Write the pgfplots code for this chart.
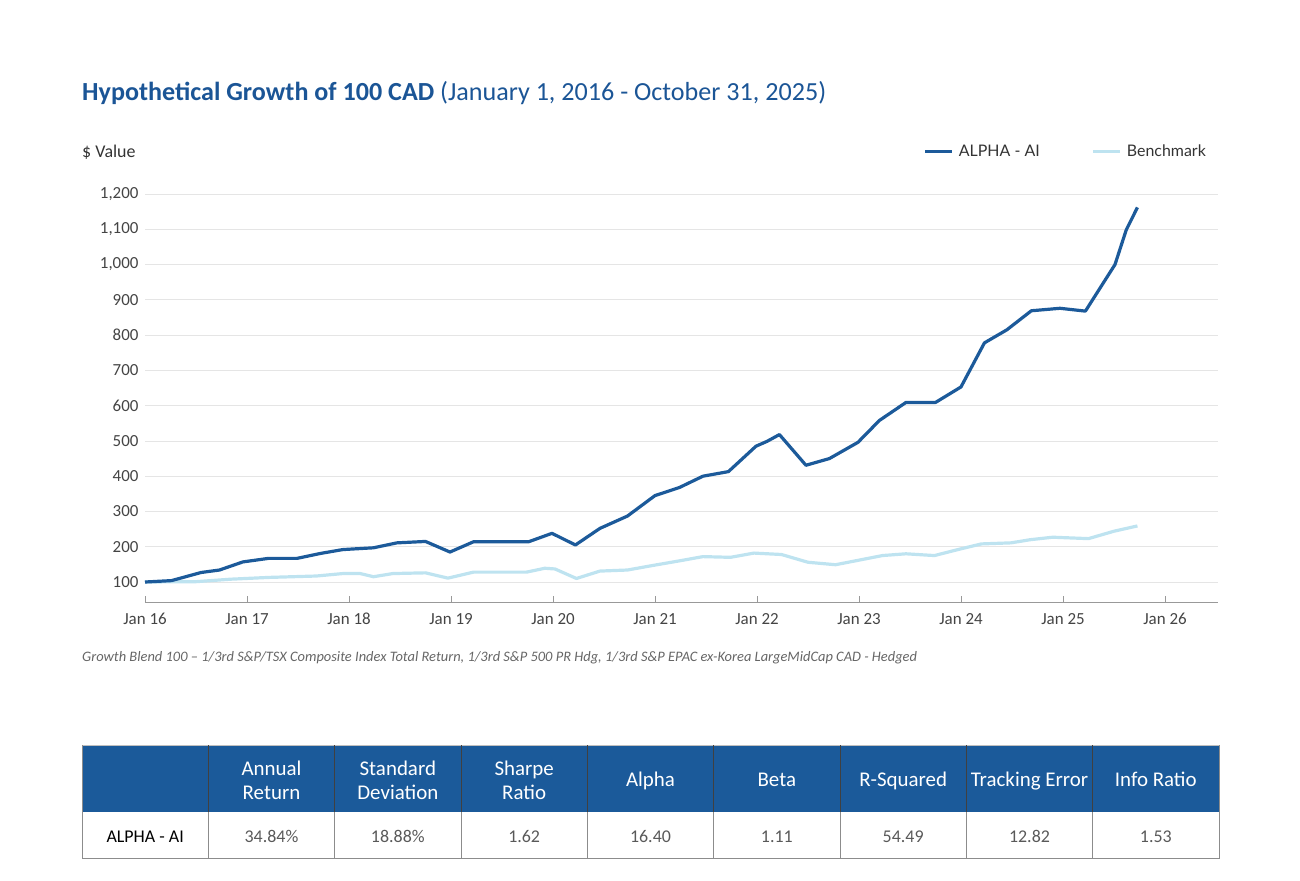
\documentclass[border=0pt]{standalone}
\usepackage{pgfplots}
\pgfplotsset{compat=1.18}
\usepackage{fontspec}
\setmainfont{Carlito}
\newfontfamily\legfont{Lato}
\definecolor{navy}{HTML}{1C5A9A}
\definecolor{lightb}{HTML}{BEE3F0}
\definecolor{titleblue}{HTML}{1B5596}
\definecolor{hdr}{HTML}{1B5A9A}
\definecolor{txt}{HTML}{333333}
\definecolor{tick}{HTML}{444444}

\begin{document}
\begin{tikzpicture}[x=1bp,y=-1bp]
\useasboundingbox (0,0) rectangle (1300,880);

% title and y label
\node[anchor=base west, inner sep=0, text=titleblue, font=\fontsize{26.2}{31}\selectfont]
  at (82,100) {\textbf{Hypothetical Growth of 100 CAD} (January 1, 2016 - October 31, 2025)};
\node[anchor=base west, inner sep=0, text=txt, font=\fontsize{18}{21}\selectfont]
  at (82,157) {\$ Value};

\begin{axis}[
    at={(145bp,-602bp)}, anchor=south west,
    scale only axis, width=1073bp, height=408bp,
    xmin=0, xmax=10.52, ymin=43.3, ymax=1200,
    axis lines=left,
    y axis line style={draw=none},
    x axis line style={draw=gray!80, line width=0.8bp, -},
    xtick={0,1,...,10},
    xticklabels={Jan 16,Jan 17,Jan 18,Jan 19,Jan 20,Jan 21,Jan 22,Jan 23,Jan 24,Jan 25,Jan 26},
    ytick={100,200,...,1200},
    tick align=inside,
    major tick length=6bp,
    xtick style={draw=gray!80, line width=0.8bp},
    ytick style={draw=none},
    ymajorgrids,
    grid style={color=black!10, line width=0.8bp},
    /pgf/number format/assume math mode=true,
    /pgf/number format/1000 sep={,},
    ticklabel style={font=\fontsize{17}{20}\selectfont, text=tick},
    xticklabel style={text height=12bp, text depth=4bp, yshift=-7bp},
    yticklabel style={xshift=-3bp},
    clip=false,
    legend columns=2,
    legend style={at={(0.9935,1.105)}, anchor=east, draw=none, fill=none,
      font=\legfont\fontsize{16}{19}\selectfont, text=txt,
      /tikz/every odd column/.append style={column sep=3bp},
      /tikz/every even column/.append style={column sep=50bp}},
    legend image code/.code={\draw[#1] (0bp,0bp) -- (27bp,0bp);},
  ]
  \addlegendimage{navy, line width=3.2bp}
  \addlegendentry{ALPHA - AI}
  \addplot[lightb, line width=3.2bp, line join=round] coordinates {
    (0,100) (0.5,101) (0.84,108) (1.21,113) (1.68,117) (1.94,124) (2.11,124)
    (2.24,115) (2.43,124) (2.75,126) (2.97,111) (3.22,128) (3.74,128) (3.92,139)
    (4.02,137) (4.23,110) (4.46,131) (4.73,134) (4.98,147) (5.24,160) (5.47,172)
    (5.74,170) (5.97,182) (6.24,178) (6.50,156) (6.77,149) (7.00,162) (7.23,175)
    (7.46,180) (7.74,175) (7.97,192) (8.20,208) (8.49,211) (8.68,220) (8.90,227)
    (9.25,223) (9.50,244) (9.73,259)
  };
  \addlegendentry{Benchmark}
  \addplot[navy, line width=3.2bp, line join=round, forget plot] coordinates {
    (0,100) (0.26,104) (0.55,127) (0.73,134) (0.96,157) (1.21,167) (1.49,167)
    (1.72,181) (1.94,192) (2.24,197) (2.47,211) (2.75,215) (2.99,185) (3.22,214)
    (3.49,214) (3.76,214) (3.99,238) (4.22,205) (4.46,252) (4.73,287) (5.00,345)
    (5.24,368) (5.47,400) (5.72,413) (5.99,485) (6.10,499) (6.22,518) (6.48,431)
    (6.71,450) (6.99,496) (7.20,558) (7.46,609) (7.75,609) (8.00,653) (8.23,778)
    (8.45,815) (8.69,869) (8.97,876) (9.22,868) (9.51,1000) (9.62,1098) (9.73,1162)
  };
\end{axis}

% footnote
\node[anchor=base west, inner sep=0, text=black!60, font=\fontsize{14.5}{17}\selectfont\itshape]
  at (82,661) {Growth Blend 100 -- 1/3rd S\&P/TSX Composite Index Total Return, 1/3rd S\&P 500 PR Hdg, 1/3rd S\&P EPAC ex-Korea LargeMidCap CAD - Hedged};

% statistics table
\fill[hdr] (82,745) rectangle (1219,812);
\draw[black!25, line width=1bp] (82,745) -- (1219,745);
\foreach \i in {1,...,8} {
  \draw[black!75, line width=0.8bp] ({82+\i*126.33},745) -- ({82+\i*126.33},812);
  \draw[black!45, line width=0.8bp] ({82+\i*126.33},812) -- ({82+\i*126.33},858);
}
\draw[black!45, line width=1bp] (82,745) -- (82,858) -- (1219,858) -- (1219,745);
\begin{scope}[every node/.style={text=white, anchor=base, inner sep=0,
    font=\fontsize{21}{24}\selectfont}]
  \node at ({82+1.5*126.33},775) {Annual};
  \node at ({82+1.5*126.33},799) {Return};
  \node at ({82+2.5*126.33},775) {Standard};
  \node at ({82+2.5*126.33},799) {Deviation};
  \node at ({82+3.5*126.33},775) {Sharpe};
  \node at ({82+3.5*126.33},799) {Ratio};
  \node at ({82+4.5*126.33},786) {Alpha};
  \node at ({82+5.5*126.33},786) {Beta};
  \node at ({82+6.5*126.33},786) {R-Squared};
  \node at ({82+7.5*126.33},786) {Tracking Error};
  \node at ({82+8.5*126.33},786) {Info Ratio};
\end{scope}
\begin{scope}[every node/.style={text=black!65, anchor=base, inner sep=0,
    font=\fontsize{18}{21}\selectfont}]
  \node[text=black] at ({82+0.5*126.33},842) {ALPHA - AI};
  \node at ({82+1.5*126.33},842) {34.84\%};
  \node at ({82+2.5*126.33},842) {18.88\%};
  \node at ({82+3.5*126.33},842) {1.62};
  \node at ({82+4.5*126.33},842) {16.40};
  \node at ({82+5.5*126.33},842) {1.11};
  \node at ({82+6.5*126.33},842) {54.49};
  \node at ({82+7.5*126.33},842) {12.82};
  \node at ({82+8.5*126.33},842) {1.53};
\end{scope}
\end{tikzpicture}
\end{document}
